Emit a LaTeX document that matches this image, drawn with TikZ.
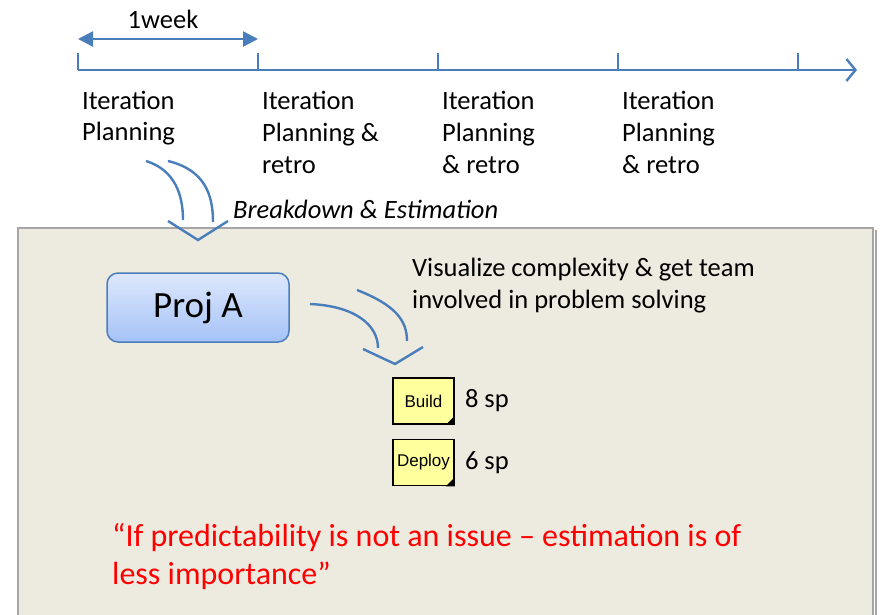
\documentclass[tikz,border=0pt]{standalone}
\usepackage{fontspec}
\setmainfont{Carlito}
\newfontfamily\notefont{Liberation Sans}
\usetikzlibrary{positioning,arrows.meta}
\definecolor{lineblue}{HTML}{4A7EBB}
\definecolor{panel}{HTML}{EDEAE0}
\definecolor{panelline}{HTML}{A6A6A6}
\definecolor{noteyellow}{HTML}{FFFF9E}
\definecolor{projtop}{HTML}{DDE8FC}
\definecolor{projbot}{HTML}{A5C2F7}

\begin{document}
\begin{tikzpicture}[x=1pt,y=-1pt,
	line/.style={lineblue,line width=2.4pt},
	txt/.style={anchor=base west,align=left,inner sep=0pt,font=\fontsize{26.5}{32}\selectfont},
	note/.style={rectangle,draw=black,line width=1.6pt,fill=noteyellow,minimum width=61pt,minimum height=46pt,inner sep=0pt,font=\notefont\fontsize{17}{18}\selectfont}]
\useasboundingbox (0,0) rectangle (881,615);
% panel
\fill[panel] (18,228) rectangle (873,615);
\draw[panelline,line width=1.5pt] (18,615) |- (873,228) -- (873,615);
\draw[panelline,line width=2pt] (875.5,230) -- (875.5,615);
% time line
\coordinate (t0) at (78,70);
\coordinate (tend) at (857,70);
\draw[line,-{Straight Barb[length=9pt,width=22pt]}] (t0) -- (tend);
\foreach \x in {78,258,438,618,798}
	\draw[line] (\x,53) -- (\x,70);
\coordinate (w0) at (78,39);
\coordinate (w1) at (258,39);
\draw[line,{Triangle[length=15pt,width=15pt]}-{Triangle[length=15pt,width=15pt]}] (w0) -- (w1);
\node[txt,anchor=base] (week) at (163,29) {1week};
% iterations (base = last line)
\node[txt] (it1) at (82,141) {Iteration\\Planning};
\node[txt] (it2) at (262,173) {Iteration\\Planning \&\\retro};
\node[txt] (it3) at (442,173) {Iteration\\Planning\\\& retro};
\node[txt] (it4) at (622,173) {Iteration\\Planning\\\& retro};
% breakdown arrow
\draw[line] (146,161) .. controls (175,170) and (183,195) .. (183,220);
\draw[line] (168,161) .. controls (205,170) and (213,195) .. (213,222);
\draw[line] (168,221) -- (198,240) -- (228,221);
\node[txt,font=\fontsize{26.5}{32}\selectfont\itshape] (brk) at (233,218) {Breakdown \& Estimation};
% project
\node[rectangle,rounded corners=11pt,draw=lineblue,line width=1.5pt,top color=projtop,bottom color=projbot,minimum width=182pt,minimum height=69pt,font=\fontsize{37}{40}\selectfont] (proj) at (198,307.5) {Proj A};
\node[txt] (vis) at (412,308) {Visualize complexity \& get team\\involved in problem solving};
\draw[line] (310,304) .. controls (355,306) and (378,325) .. (378,348);
\draw[line] (357,290) .. controls (395,305) and (407,320) .. (407,341);
\draw[line] (363,349) -- (395,364) -- (423,347);
% stories
\node[note] (build) at (423.5,401) {Build};
\node[note,below=14pt of build] (deploy) {Deploy};
\foreach \n in {build,deploy}
	\fill[black] (\n.south east) -- ++(-9,0) -- ++(9,-9) -- cycle;
\node[txt,anchor=west,right=10pt of build] (sp1) {8 sp};
\node[txt,anchor=west,right=10pt of deploy] (sp2) {6 sp};
% quote
\node[txt,text=red,font=\fontsize{32}{38}\selectfont] (quote) at (112,584) {“If predictability is not an issue – estimation is of\\less importance”};
\end{tikzpicture}
\end{document}
